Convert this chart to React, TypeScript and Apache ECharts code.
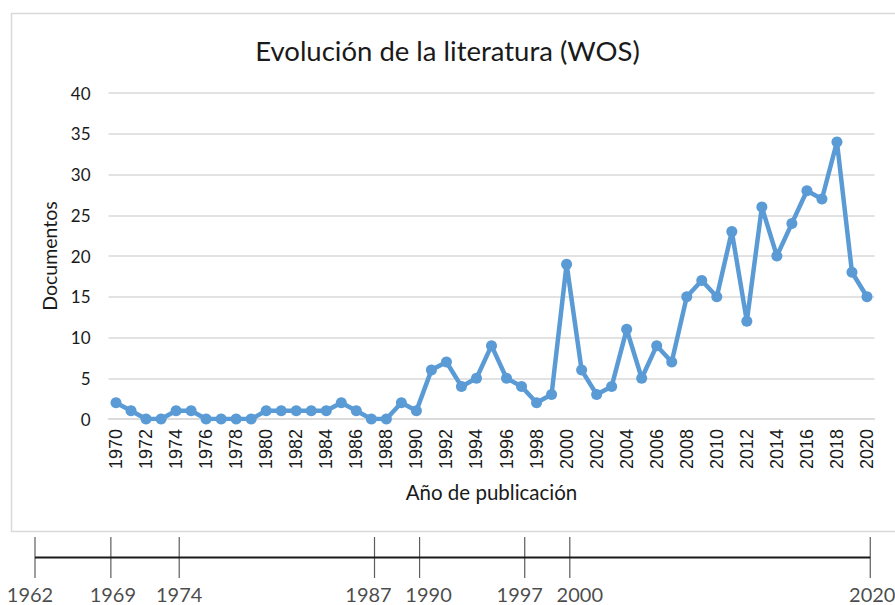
import React, { useEffect, useRef } from "react";
import * as echarts from "echarts";

const years: string[] = [];
for (let y = 1970; y <= 2020; y++) years.push(String(y));

const documentos = [
  2, 1, 0, 0, 1, 1, 0, 0, 0, 0,
  1, 1, 1, 1, 1, 2, 1, 0, 0, 2,
  1, 6, 7, 4, 5, 9, 5, 4, 2, 3,
  19, 6, 3, 4, 11, 5, 9, 7, 15, 17,
  15, 23, 12, 26, 20, 24, 28, 27, 34, 18,
  15,
];

const timelineYears = [1962, 1969, 1974, 1987, 1990, 1997, 2000, 2020];

// slot of a milestone on the timeline, in chart-category units (1970 = 0)
const timelineSlot = (year: number) =>
  year >= 1970 ? year - 1970 + 0.2 : year === 1969 ? -0.35 : -5.4;

// horizontal nudges of the milestone labels (px), as in the hand-made timeline
const labelNudge: Record<number, number> = {
  1962: -5, 1969: 2, 1974: 0, 1987: -6, 1990: 9, 1997: -5, 2000: 10, 2020: 2,
};

const titleText = "Evolución de la literatura (WOS)";
const xName = "Año de publicación";
const yName = "Documentos";

export default function App() {
  const ref = useRef<HTMLDivElement>(null);
  useEffect(() => {
    document.body.style.margin = "0";
    const chart = echarts.init(ref.current!, null, { renderer: "svg" });
    const font = "Lato, 'Noto Sans', sans-serif";
    chart.setOption({
      animation: false,
      backgroundColor: "#ffffff",
      title: {
        text: titleText,
        left: "center",
        top: 31,
        textStyle: { fontFamily: font, fontSize: 27.5, fontWeight: "normal", color: "#1a1a1a" },
      },
      graphic: [
        {
          type: "rect",
          z: -10,
          shape: { x: 11.5, y: 13.5, width: 900, height: 518 },
          style: { fill: "none", stroke: "#d9d9d9", lineWidth: 1.5 },
        },
      ],
      grid: [
        { left: 108.5, right: 20.5, top: 93, height: 326 },
        { left: 35, right: 24, top: 537, height: 41 },
      ],
      xAxis: [
        {
          type: "category",
          gridIndex: 0,
          data: years,
          boundaryGap: true,
          axisTick: { show: false },
          axisLine: { lineStyle: { color: "#d9d9d9", width: 1.5 } },
          axisLabel: {
            interval: 1,
            rotate: 90,
            margin: 10,
            fontFamily: "'Liberation Sans', Arial, sans-serif",
            fontSize: 18,
            color: "#1a1a1a",
          },
          name: xName,
          nameLocation: "middle",
          nameGap: 62,
          nameTextStyle: { fontFamily: font, fontSize: 20.5, color: "#1a1a1a" },
        },
        {
          type: "value",
          gridIndex: 1,
          min: -5.4,
          max: 50.25,
          show: false,
        },
      ],
      yAxis: [
        {
          type: "value",
          gridIndex: 0,
          min: 0,
          max: 40,
          interval: 5,
          axisLine: { show: false },
          axisTick: { show: false },
          splitLine: { lineStyle: { color: "#d9d9d9", width: 1.5 } },
          axisLabel: { fontFamily: font, fontSize: 17, color: "#1a1a1a", margin: 18 },
          name: yName,
          nameLocation: "middle",
          nameGap: 47,
          nameTextStyle: { fontFamily: font, fontSize: 19.5, color: "#1a1a1a" },
        },
        {
          type: "value",
          gridIndex: 1,
          min: -1,
          max: 1,
          show: false,
        },
      ],
      series: [
        {
          type: "line",
          xAxisIndex: 0,
          yAxisIndex: 0,
          data: documentos,
          symbol: "circle",
          symbolSize: 11,
          showAllSymbol: true,
          lineStyle: { color: "#5b9bd5", width: 4.5 },
          itemStyle: { color: "#5b9bd5" },
        },
        {
          type: "line",
          xAxisIndex: 1,
          yAxisIndex: 1,
          data: [
            [timelineSlot(timelineYears[0]), 0],
            [timelineSlot(timelineYears[timelineYears.length - 1]), 0],
          ],
          symbol: "none",
          lineStyle: { color: "#1a1a1a", width: 2 },
          silent: true,
        },
        {
          type: "scatter",
          xAxisIndex: 1,
          yAxisIndex: 1,
          data: timelineYears.map((y) => ({
            value: [timelineSlot(y), 0],
            name: String(y),
            label: { offset: [labelNudge[y] || 0, 0] },
          })),
          symbol: "rect",
          symbolSize: [1.2, 41],
          itemStyle: { color: "#333333" },
          label: {
            show: true,
            position: "bottom",
            distance: 6,
            formatter: (p: any) => p.name,
            fontFamily: font,
            fontSize: 20,
            color: "#1a1a1a",
          },
          silent: true,
        },
      ],
    });
    return () => chart.dispose();
  }, []);
  return <div ref={ref} style={{ width: 895, height: 605 }} />;
}
